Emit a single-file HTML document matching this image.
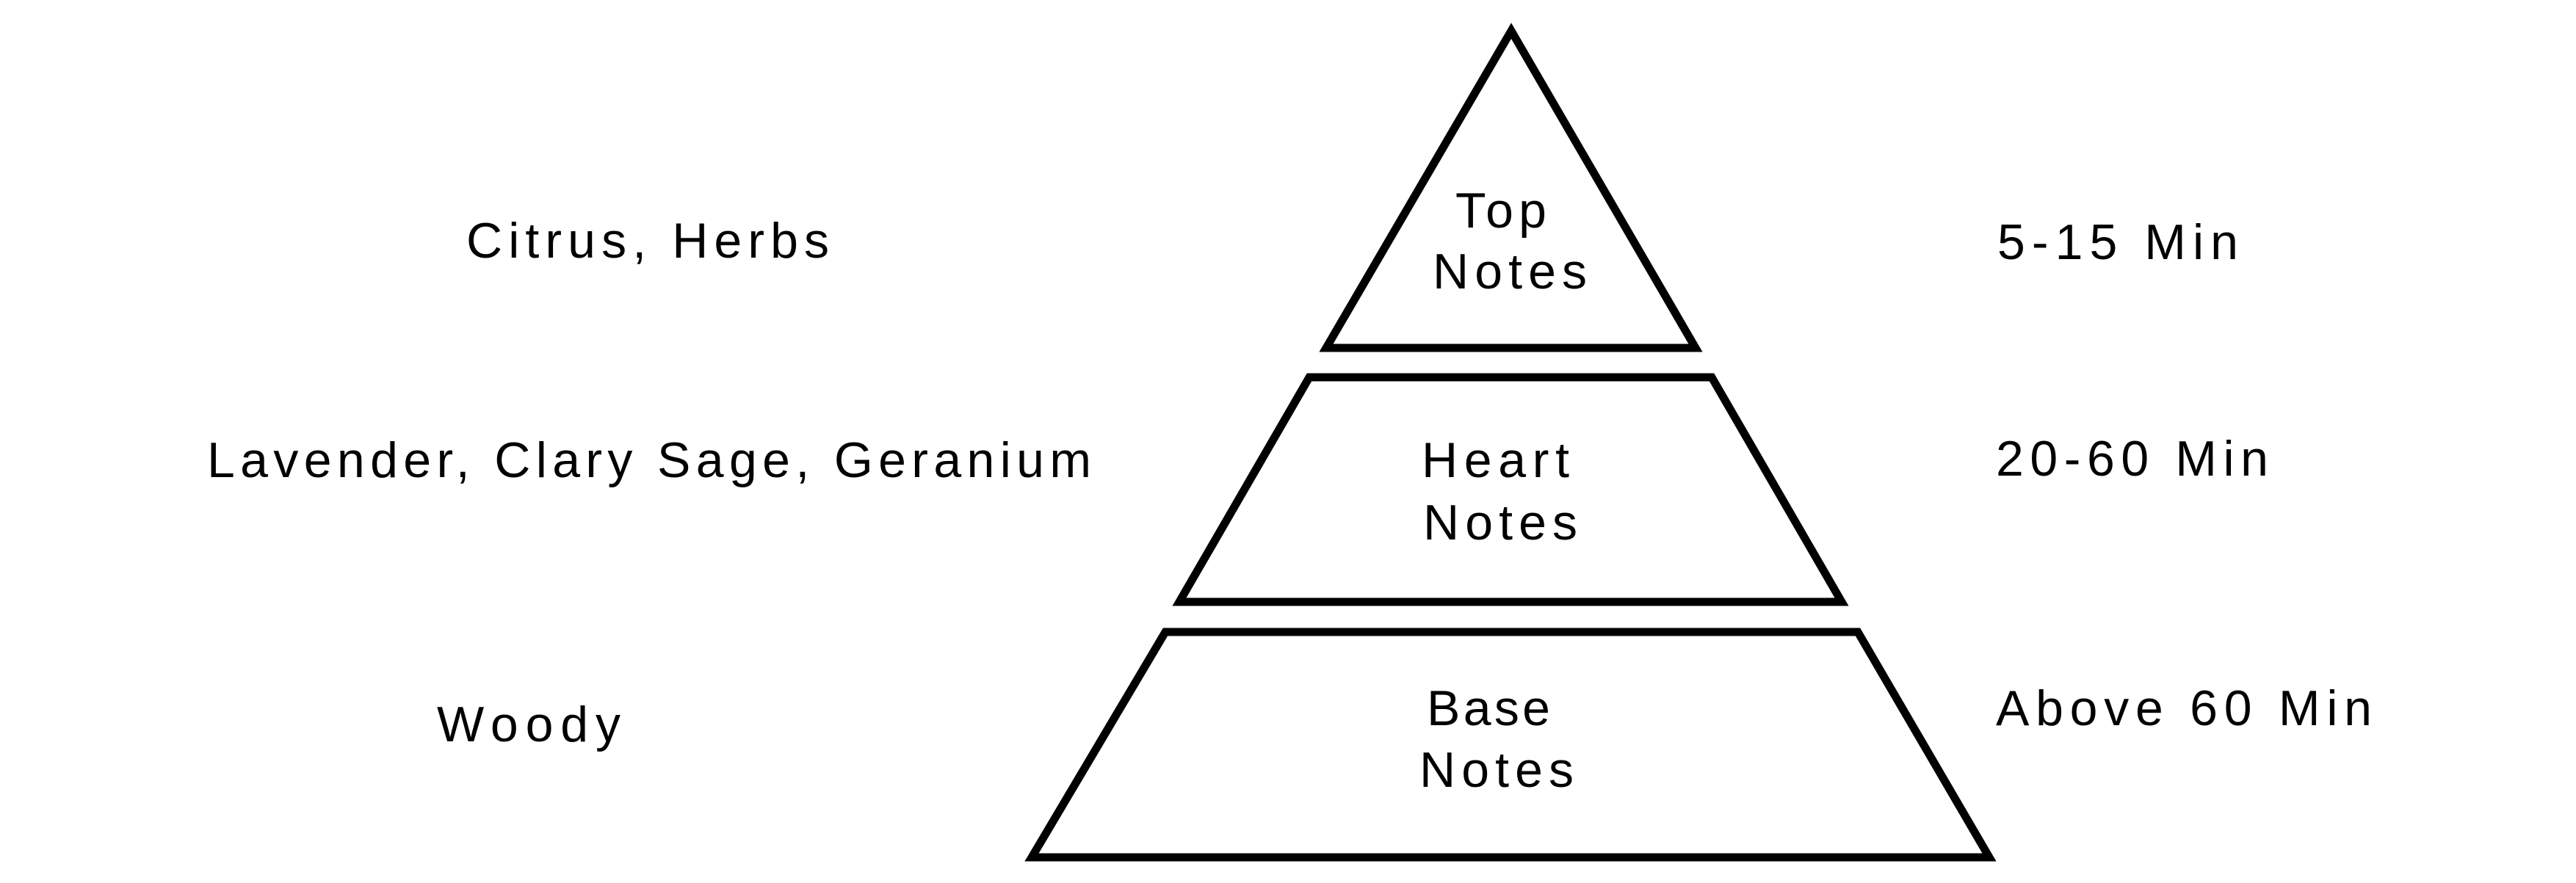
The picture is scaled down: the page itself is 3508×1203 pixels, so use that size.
<!DOCTYPE html>
<html><head><style>html,body{margin:0;padding:0;background:#fff}svg{display:block}</style></head>
<body>
<svg width="3508" height="1203" viewBox="0 0 3508 1203" xmlns="http://www.w3.org/2000/svg">
<g fill="none" stroke="#000" stroke-width="11" stroke-linejoin="miter">
<polygon points="2058,42 2309,474 1806,474"/>
<polygon points="1783,514 2331,514 2508,820 1606,820"/>
<polygon points="1587,861 2530,861 2709,1168 1405,1168"/>
</g>
<g font-family="Liberation Sans, Arial, sans-serif" font-size="68" fill="#000">
<text x="635" y="351" textLength="494" lengthAdjust="spacing">Citrus, Herbs</text>
<text x="282" y="650" textLength="1204" lengthAdjust="spacing">Lavender, Clary Sage, Geranium</text>
<text x="595" y="1010" textLength="250" lengthAdjust="spacing">Woody</text>
<text x="2720" y="353" textLength="328" lengthAdjust="spacing">5-15 Min</text>
<text x="2718" y="648" textLength="371" lengthAdjust="spacing">20-60 Min</text>
<text x="2718" y="988" textLength="512" lengthAdjust="spacing">Above 60 Min</text>
<text x="1982" y="310" textLength="124" lengthAdjust="spacing">Top</text>
<text x="1951" y="393" textLength="210" lengthAdjust="spacing">Notes</text>
<text x="1936" y="650" textLength="201" lengthAdjust="spacing">Heart</text>
<text x="1938" y="735" textLength="210" lengthAdjust="spacing">Notes</text>
<text x="1943" y="988" textLength="168" lengthAdjust="spacing">Base</text>
<text x="1933" y="1072" textLength="210" lengthAdjust="spacing">Notes</text>
</g>
</svg>
</body></html>
